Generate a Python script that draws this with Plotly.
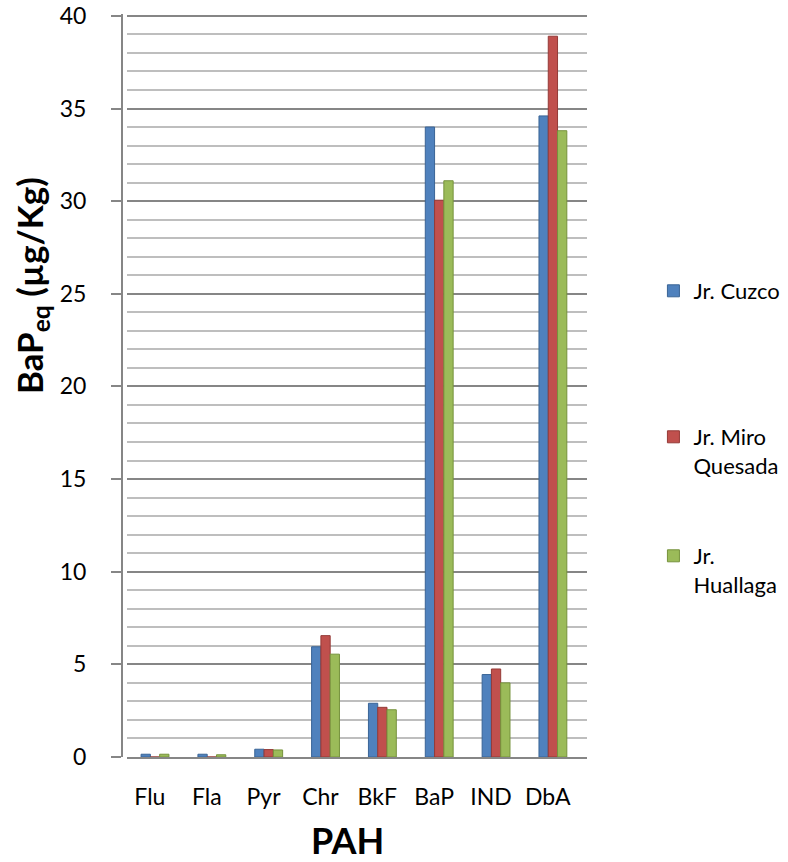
import plotly.graph_objects as go

categories = ["Flu", "Fla", "Pyr", "Chr", "BkF", "BaP", "IND", "DbA"]
cuzco = [0.15, 0.15, 0.42, 5.95, 2.9, 34.0, 4.45, 34.6]
miro = [0.0, 0.0, 0.40, 6.55, 2.68, 30.05, 4.75, 38.9]
huallaga = [0.15, 0.12, 0.38, 5.55, 2.55, 31.1, 4.0, 33.8]
series_names = ["Jr. Cuzco", "Jr. Miro<br>Quesada", "Jr.<br>Huallaga"]
y_ticks = [0, 5, 10, 15, 20, 25, 30, 35, 40]

FONT = "Lato"
fill = ["#4F81BD", "#C0504D", "#9BBB59"]
edge = ["#3A6496", "#943A37", "#76923C"]

xpos = list(range(len(categories)))
fig = go.Figure()
for i, (name, vals) in enumerate(zip(series_names, [cuzco, miro, huallaga])):
    fig.add_trace(go.Bar(
        x=xpos, y=vals, name=name,
        marker=dict(color=fill[i], line=dict(color=edge[i], width=1)),
        legend=["legend", "legend2", "legend3"][i],
    ))

W, H = 788, 862
plot_left, plot_right, plot_top, plot_bottom = 122, 587.5, 14, 757
ml = plot_left
mt = plot_top
mb = H - plot_bottom
mr = W - plot_right
pw = W - ml - mr
ph = H - mt - mb

def px_x(p):
    return (p - ml) / pw

def px_y(p):
    return (H - mb - p) / ph

leg_common = dict(font=dict(family=FONT, size=22, color="#000000"), bgcolor="rgba(0,0,0,0)",
                  xref="paper", yref="paper", xanchor="left", yanchor="top", valign="top",
                  itemwidth=30)
fig.update_layout(
    width=W, height=H,
    margin=dict(l=ml, r=mr, t=mt, b=mb, autoexpand=False),
    paper_bgcolor="white", plot_bgcolor="white",
    barmode="group", bargap=0.51, bargroupgap=0,
    font=dict(family=FONT, size=22, color="#000000"),
    showlegend=True,
    legend=dict(**leg_common, x=px_x(654), y=px_y(270)),
    legend2=dict(**leg_common, x=px_x(654), y=px_y(416)),
    legend3=dict(**leg_common, x=px_x(654), y=px_y(535)),
    xaxis=dict(
        domain=[px_x(126.6), 1],
        range=[-0.5, 7.6],
        tickvals=[v - 0.09 for v in xpos], ticktext=categories,
        showgrid=False, zeroline=False, automargin=False,
        showline=True, linecolor="#868686", linewidth=2,
        ticks="", ticklabelstandoff=18,
        tickfont=dict(family=FONT, size=23),
    ),
    yaxis=dict(
        range=[0, 40.1], tickvals=y_ticks,
        anchor="free", position=0, automargin=False,
        showgrid=True, gridcolor="#868686", gridwidth=2,
        minor=dict(dtick=1, showgrid=True, gridcolor="#BEBEBE", gridwidth=2),
        zeroline=False,
        showline=True, linecolor="#868686", linewidth=2,
        ticks="outside", ticklen=10, tickcolor="#868686", tickwidth=2,
        ticklabelstandoff=20,
        tickfont=dict(family=FONT, size=23),
    ),
    annotations=[
        dict(text="<b>BaP<sub>eq</sub> (µg/Kg)</b>", textangle=-90, showarrow=False,
             xref="paper", yref="paper", x=px_x(31), y=px_y(286),
             xanchor="center", yanchor="middle",
             font=dict(family=FONT, size=35, color="#000000")),
        dict(text="<b>PAH</b>", showarrow=False,
             xref="paper", yref="paper", x=px_x(348), y=px_y(840),
             xanchor="center", yanchor="middle",
             font=dict(family=FONT, size=36, color="#000000")),
    ],
)
fig.write_html("out.html", config={"displayModeBar": False},
               post_script="document.body.style.margin='0px';")
